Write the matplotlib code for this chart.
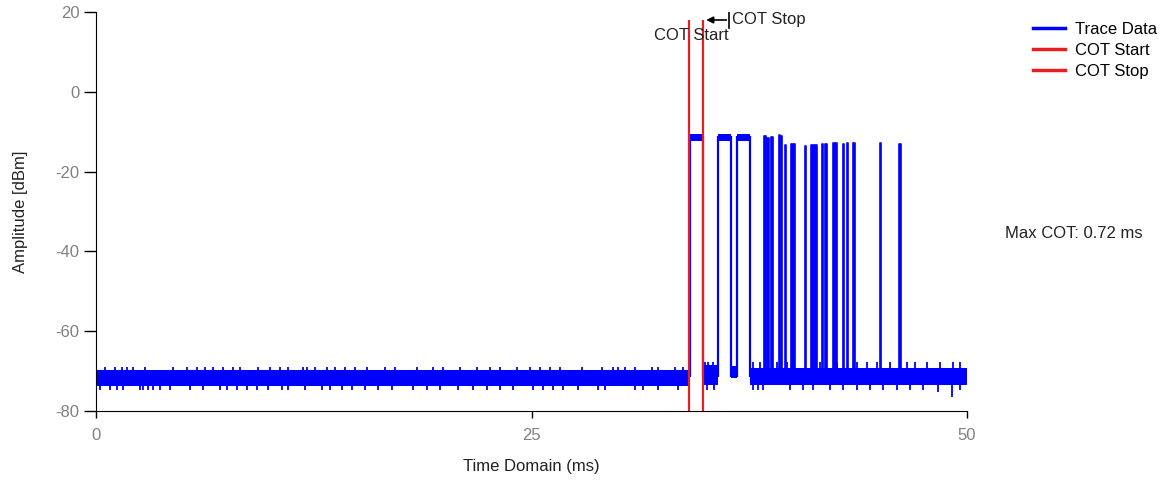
import matplotlib.pyplot as plt
from matplotlib.lines import Line2D

plt.rcParams['font.family'] = ['Liberation Sans', 'DejaVu Sans']
plt.rcParams['axes.unicode_minus'] = False

# noise floor segments (ms) and band edges (dBm)
base_start = [0.0, 34.84, 36.45, 37.54]
base_end = [34.10, 35.71, 36.80, 50.0]
base_top = [-69.8, -68.4, -68.6, -69.2]
base_bot = [-73.8, -73.6, -71.8, -73.4]

# spikes sticking out of the noise band
up_early = [0.52, 1.09, 1.49, 1.78, 2.12, 2.81, 4.42, 5.22, 5.80, 6.26, 6.72, 7.29,
            7.86, 8.27, 9.30, 9.99, 10.56, 11.02, 11.88, 12.11, 12.57, 13.26, 13.72,
            14.29, 14.87, 15.56, 16.59, 17.16, 18.43, 19.35, 19.92, 20.90, 21.87,
            22.62, 23.19, 24.17, 24.91, 25.49, 26.06, 26.64, 27.90, 29.05, 29.68,
            29.97, 30.37, 30.94, 31.92, 32.26, 33.24, 33.70]
up_late = [34.95, 35.15, 35.40, 37.72, 38.12, 39.09, 39.67, 41.56, 42.54, 43.69,
           44.26, 44.83, 45.58, 46.56, 47.01, 47.70, 48.45, 49.20, 49.60]
down_all = [0.23, 0.80, 1.21, 1.55, 2.53, 2.70, 2.99, 3.27, 3.67, 4.25, 5.40, 6.14,
            7.12, 7.52, 8.09, 8.67, 9.24, 9.87, 10.68, 11.02, 12.00, 12.97, 13.43,
            14.12, 14.70, 15.44, 16.19, 16.99, 18.20, 19.00, 19.75, 20.78, 21.64,
            22.45, 23.19, 23.94, 25.09, 25.66, 26.23, 26.81, 27.67, 28.82, 29.22,
            30.94, 31.40, 32.26, 33.41, 35.05, 35.50, 37.72, 38.00, 38.29, 39.84,
            40.59, 41.16, 42.14, 42.88, 43.69, 44.43, 45.18, 45.98, 46.73, 47.47,
            49.60]
deep_t = [48.34, 49.14]
deep_lvl = [-75.3, -76.6]

# long bursts
burst_start = [34.08, 35.71, 36.80]
burst_end = [34.84, 36.45, 37.54]

# short pulses
pulse_start = [38.36, 38.54, 38.75, 39.19, 39.30, 39.55, 39.90, 40.72, 41.06, 41.67,
               41.87, 42.29, 42.86, 43.09, 43.47, 45.00, 46.10]
pulse_end = [38.46, 38.62, 38.86, 39.26, 39.38, 39.61, 40.13, 40.78, 41.37, 41.75,
             41.95, 42.52, 42.94, 43.17, 43.55, 45.09, 46.20]
pulse_top = [-11.2, -11.6, -11.4, -10.8, -11.1, -13.3, -13.1, -13.5, -13.3, -13.1,
             -13.1, -12.8, -13.1, -12.8, -12.8, -12.8, -13.1]

cot_start = 34.05
cot_stop = 34.84
max_cot = 0.72

blue = '#0000ff'
red = '#e62020'

fig = plt.figure(figsize=(11.73, 4.86), dpi=100)
ax = fig.add_axes([96 / 1173, 75 / 486, 871 / 1173, 399 / 486])

# noise floor
for s, e, t, b in zip(base_start, base_end, base_top, base_bot):
    ax.fill_between([s, e], b, t, color=blue, lw=0, zorder=2)
ax.vlines(up_early, -71, -68.9, color=blue, lw=1.3, zorder=2)
ax.vlines(up_late, -71, -67.6, color=blue, lw=1.3, zorder=2)
ax.vlines(down_all, -74.8, -72, color=blue, lw=1.3, zorder=2)
ax.vlines(deep_t, deep_lvl, -72, color=blue, lw=1.3, zorder=2)

# bursts
for s, e in zip(burst_start, burst_end):
    ax.fill_between([s, e], -12.4, -10.7, color=blue, lw=0, zorder=2)
    ax.vlines([s, e], -71.5, -11, color=blue, lw=1.6, zorder=2)

for s, e, t in zip(pulse_start, pulse_end, pulse_top):
    ax.fill_between([s, e], -71, t, color=blue, lw=1.2, edgecolor=blue, zorder=2)

# COT markers
ax.vlines([cot_start, cot_stop], -80, 18, color=red, lw=1.6, zorder=3)
ax.text(36.3, 14.0, 'COT Start', ha='right', va='center', fontsize=12, color='#222222')
ax.text(36.5, 18.0, 'COT Stop', ha='left', va='center', fontsize=12, color='#222222')
ax.annotate('', xy=(cot_stop + 0.03, 18), xytext=(36.35, 18),
            arrowprops=dict(arrowstyle='-|>', color='black', lw=1.2, mutation_scale=10))
ax.plot([36.35, 36.35], [16, 20], color='black', lw=1.2)

ax.set_xlim(0, 50)
ax.set_ylim(-80, 20)
ax.set_xticks([0, 25, 50])
ax.set_yticks([-80, -60, -40, -20, 0, 20])
ax.spines['top'].set_visible(False)
ax.spines['right'].set_visible(False)
ax.tick_params(axis='y', length=8.5, width=1, pad=3.5, labelsize=12, labelcolor='#808080')
ax.tick_params(axis='x', length=5, width=1, pad=7, labelsize=12, labelcolor='#808080')

ax.set_xlabel('Time Domain (ms)', fontsize=12, color='#222222', va='center')
ax.xaxis.set_label_coords(0.5, -0.14)
ax.set_ylabel('Amplitude [dBm]', fontsize=12, color='#222222', va='center')
ax.yaxis.set_label_coords(-0.087, 0.5)

handles = [Line2D([], [], color=blue, lw=2.5, label='Trace Data'),
           Line2D([], [], color=red, lw=2.5, label='COT Start'),
           Line2D([], [], color=red, lw=2.5, label='COT Stop')]
fig.legend(handles=handles, loc='upper left', bbox_to_anchor=(1033 / 1173, 1 - 22 / 486),
           frameon=False, fontsize=12, handlelength=1.9, handletextpad=0.6,
           labelspacing=0.35, borderpad=0, borderaxespad=0)

fig.text(1005 / 1173, 1 - 233 / 486, 'Max COT: %.2f ms' % max_cot, fontsize=12,
         va='center', ha='left', color='#222222')

fig.savefig('out.png', dpi=100)
